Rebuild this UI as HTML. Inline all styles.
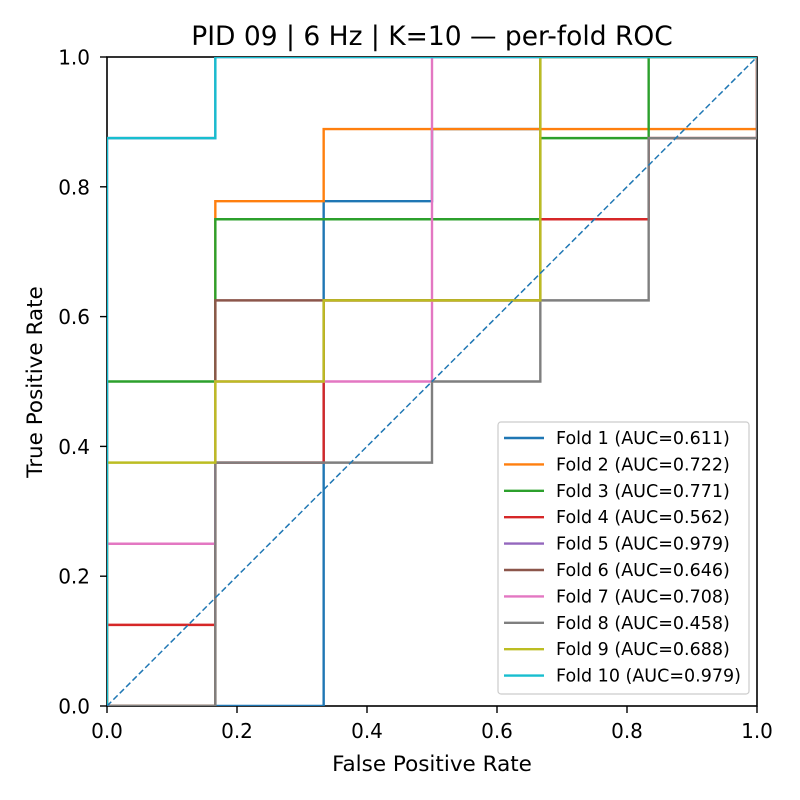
<!DOCTYPE html>
<html><head><meta charset="utf-8"><style>
html,body{margin:0;padding:0;background:#fff;}
svg{display:block;font-family:"DejaVu Sans","Liberation Sans",sans-serif;}
</style></head><body>
<svg id="chart" width="800" height="800">
<rect width="800" height="800" fill="#fff"/>
<text x="432" y="45" font-size="26.5" text-anchor="middle">PID 09 | 6 Hz | K=10 — per-fold ROC</text>
<g id="plot"></g>
<text x="432" y="771" font-size="21.5" text-anchor="middle">False Positive Rate</text>
<text transform="translate(42,382) rotate(-90)" font-size="21.5" text-anchor="middle">True Positive Rate</text>
</svg>
<script>
const foldNames = ["Fold 1","Fold 2","Fold 3","Fold 4","Fold 5","Fold 6","Fold 7","Fold 8","Fold 9","Fold 10"];
const foldAUC = [0.611,0.722,0.771,0.562,0.979,0.646,0.708,0.458,0.688,0.979];
const foldColors = ["#1f77b4","#ff7f0e","#2ca02c","#d62728","#9467bd","#8c564b","#e377c2","#7f7f7f","#bcbd22","#17becf"];
const fpr1=[0,1/3,1/3,1/2,1/2,2/3,2/3,1], tpr1=[0,0,7/9,7/9,8/9,8/9,1,1];
const fpr2=[0,1/6,1/6,1/3,1/3,1,1], tpr2=[0,0,7/9,7/9,8/9,8/9,1];
const fpr3=[0,0,1/6,1/6,2/3,2/3,5/6,5/6,1], tpr3=[0,0.5,0.5,0.75,0.75,0.875,0.875,1,1];
const fpr4=[0,0,1/6,1/6,1/3,1/3,2/3,2/3,5/6,5/6,1,1], tpr4=[0,0.125,0.125,0.375,0.375,0.625,0.625,0.75,0.75,0.875,0.875,1];
const fpr5=[0,0,1/6,1/6,1], tpr5=[0,0.875,0.875,1,1];
const fpr6=[0,1/6,1/6,2/3,2/3,1], tpr6=[0,0,0.625,0.625,1,1];
const fpr7=[0,0,1/6,1/6,1/2,1/2,1], tpr7=[0,0.25,0.25,0.5,0.5,1,1];
const fpr8=[0,1/6,1/6,1/2,1/2,2/3,2/3,5/6,5/6,1,1], tpr8=[0,0,0.375,0.375,0.5,0.5,0.625,0.625,0.875,0.875,1];
const fpr9=[0,0,1/6,1/6,1/3,1/3,2/3,2/3,1], tpr9=[0,0.375,0.375,0.5,0.5,0.625,0.625,1,1];
const fpr10=[0,0,1/6,1/6,1], tpr10=[0,0.875,0.875,1,1];
const xTicks=[0,0.2,0.4,0.6,0.8,1.0];
const yTicks=[0,0.2,0.4,0.6,0.8,1.0];
const allFpr=[fpr1,fpr2,fpr3,fpr4,fpr5,fpr6,fpr7,fpr8,fpr9,fpr10];
const allTpr=[tpr1,tpr2,tpr3,tpr4,tpr5,tpr6,tpr7,tpr8,tpr9,tpr10];

const NS="http://www.w3.org/2000/svg";
const L=107,R=757,T=57,B=706;
const sx=v=>L+v*(R-L), sy=v=>B-v*(B-T);
const g=document.getElementById('plot');
function mk(tag,attrs,parent){const e=document.createElementNS(NS,tag);for(const k in attrs)e.setAttribute(k,attrs[k]);(parent||g).appendChild(e);return e;}

const frame=mk('rect',{x:L,y:T,width:R-L,height:B-T,fill:'none',stroke:'#000','stroke-width':1.6});



const defs=mk('defs',{});
const cp=mk('clipPath',{id:'cp'},defs);
mk('rect',{x:L,y:T,width:R-L,height:B-T},cp);
const lines=mk('g',{'clip-path':'url(#cp)'});



for(let i=0;i<foldNames.length;i++){
  const pts=allFpr[i].map((f,j)=>sx(f).toFixed(2)+','+sy(allTpr[i][j]).toFixed(2)).join(' ');
  const pl=mk('polyline',{points:pts,fill:'none',stroke:foldColors[i],'stroke-width':2.4},lines);
  
  
}
const diag=mk('line',{x1:sx(0),y1:sy(0),x2:sx(1),y2:sy(1),stroke:'#1f77b4','stroke-width':1.5,'stroke-dasharray':'6,3'},lines);



xTicks.forEach(t=>{
  mk('line',{x1:sx(t),y1:B,x2:sx(t),y2:B+7,stroke:'#000','stroke-width':1.4});
  const tx=mk('text',{x:sx(t),y:738,'font-size':20,'text-anchor':'middle'});
  tx.textContent=t.toFixed(1);
  
  
});
yTicks.forEach(t=>{
  mk('line',{x1:L-7,y1:sy(t),x2:L,y2:sy(t),stroke:'#000','stroke-width':1.4});
  const tx=mk('text',{x:90,y:sy(t)+7.5,'font-size':20,'text-anchor':'end'});
  tx.textContent=t.toFixed(1);
  
  
});

const lg=mk('g',{});


mk('rect',{x:498,y:422,width:251,height:272,rx:3,fill:'#fff','fill-opacity':0.85,stroke:'#ccc','stroke-width':1.2},lg);
for(let i=0;i<foldNames.length;i++){
  const y=438+i*26.4;
  const it=mk('g',{},lg);
  
  
  mk('line',{x1:504,y1:y,x2:544,y2:y,stroke:foldColors[i],'stroke-width':2.4},it);
  const tx=mk('text',{x:556,y:y+6,'font-size':17.5},it);
  tx.textContent=foldNames[i]+' (AUC='+foldAUC[i].toFixed(3)+')';
}
</script>
</body></html>
